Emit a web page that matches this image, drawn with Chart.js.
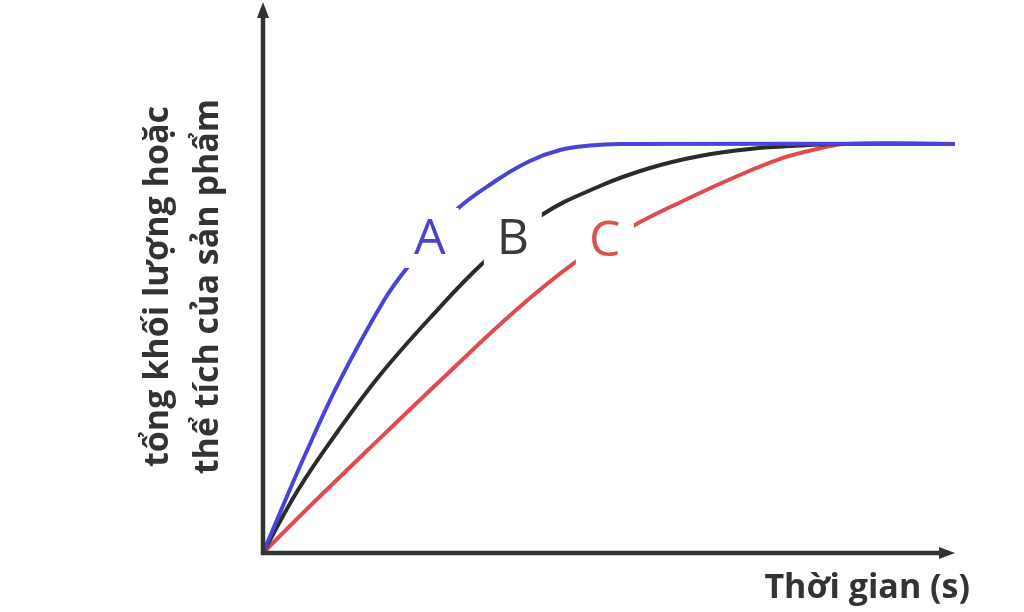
<!DOCTYPE html>
<html>
<head>
<meta charset="utf-8">
<script src="https://cdn.jsdelivr.net/npm/chart.js@4.4.1/dist/chart.umd.min.js"></script>
<style>
  html, body { margin: 0; padding: 0; background: #fff; }
  #wrap { width: 1024px; height: 612px; }
</style>
</head>
<body>
<div id="wrap"><canvas id="chart" width="1024" height="612"></canvas></div>
<script>
// Dữ liệu (thời gian, lượng sản phẩm)
const timeA = [0, 2.75, 6.07, 10.84, 17.34, 20.81, 27.46, 33.82, 38.58, 42.92, 47.25, 51.59, 100];
const valueA = [0, 8.26, 17.98, 31.0, 46.06, 52.29, 62.39, 68.44, 71.93, 73.94, 74.77, 75.05, 75.05];

const timeB = [0, 5.06, 10.84, 16.91, 24.13, 31.94, 40.03, 48.7, 55.92, 63.15, 70.38, 77.6, 83.38, 100];
const valueB = [0, 11.56, 22.39, 32.66, 43.12, 53.39, 61.83, 67.34, 70.64, 72.84, 74.13, 74.77, 75.05, 75.05];

const timeC = [0, 6.07, 15.75, 25.87, 36.42, 45.38, 53.47, 60.69, 67.92, 75.14, 80.06, 84.1, 100];
const valueC = [0, 7.71, 19.63, 31.93, 44.4, 53.58, 60.0, 64.59, 68.81, 72.48, 74.13, 75.05, 75.05];

// Nhãn đường cong
const curveNames = ['A', 'B', 'C'];
const labelX = [24.1, 36.1, 49.4];
const labelY = [57.8, 57.8, 57.4];

const xTitle = 'Thời gian (s)';
const yTitle = ['tổng khối lượng hoặc', 'thể tích của sản phẩm'];

const colors = ['#4a44d6', '#2b2b2b', '#e04b4f'];
const labelColors = ['#4a44cc', '#3a3a3a', '#d9534f'];

function toPoints(xs, ys) {
  return xs.map((x, i) => ({ x: x, y: ys[i] }));
}

// Vẽ trục có mũi tên, nhãn A/B/C và tiêu đề trục
const decorPlugin = {
  id: 'decor',
  afterDatasetsDraw(chart) {
    const ctx = chart.ctx;
    const area = chart.chartArea;
    const xs = chart.scales.x, ys = chart.scales.y;
    ctx.save();

    // nhãn trên đường cong (che đường bằng nền trắng)
    ctx.font = '50px "Open Sans", sans-serif';
    ctx.textAlign = 'center';
    ctx.textBaseline = 'middle';
    curveNames.forEach((name, i) => {
      const px = xs.getPixelForValue(labelX[i]);
      const py = ys.getPixelForValue(labelY[i]);
      ctx.fillStyle = '#fff';
      ctx.fillRect(px - 29, py - 30, 58, 60);
      ctx.fillStyle = labelColors[i];
      ctx.fillText(name, px, py + 2);
    });

    // trục
    ctx.strokeStyle = '#333';
    ctx.fillStyle = '#333';
    ctx.lineWidth = 4.5;
    ctx.beginPath();
    ctx.moveTo(area.left, area.top);
    ctx.lineTo(area.left, area.bottom);
    ctx.lineTo(area.right - 6, area.bottom);
    ctx.stroke();
    // mũi tên trục tung
    ctx.beginPath();
    ctx.moveTo(area.left, area.top - 6);
    ctx.lineTo(area.left - 6, area.top + 10);
    ctx.lineTo(area.left + 6, area.top + 10);
    ctx.closePath();
    ctx.fill();
    // mũi tên trục hoành
    ctx.beginPath();
    ctx.moveTo(area.right, area.bottom);
    ctx.lineTo(area.right - 16, area.bottom - 6);
    ctx.lineTo(area.right - 16, area.bottom + 6);
    ctx.closePath();
    ctx.fill();

    // tiêu đề trục hoành
    ctx.fillStyle = '#333';
    ctx.font = 'bold 34px "Open Sans", sans-serif';
    ctx.textAlign = 'right';
    ctx.textBaseline = 'middle';
    ctx.fillText(xTitle, area.right + 15, area.bottom + 35);

    // tiêu đề trục tung (hai dòng, xoay)
    ctx.translate(area.left - 80, (area.top + area.bottom) / 2 + 6);
    ctx.rotate(-Math.PI / 2);
    ctx.textAlign = 'center';
    ctx.fillText(yTitle[0], 0, -25);
    ctx.fillText(yTitle[1], 0, 25);
    ctx.restore();
  }
};

const ctx = document.getElementById('chart').getContext('2d');
new Chart(ctx, {
  type: 'line',
  data: {
    datasets: [
      { label: 'A', data: toPoints(timeA, valueA), borderColor: colors[0] },
      { label: 'B', data: toPoints(timeB, valueB), borderColor: colors[1] },
      { label: 'C', data: toPoints(timeC, valueC), borderColor: colors[2] }
    ]
  },
  options: {
    responsive: false,
    animation: false,
    layout: { padding: { left: 263, top: 8, right: 69, bottom: 59 } },
    elements: {
      line: { borderWidth: 4, tension: 0.4, fill: false },
      point: { radius: 0 }
    },
    plugins: {
      legend: { display: false },
      tooltip: { enabled: false }
    },
    scales: {
      x: { type: 'linear', min: 0, max: 100, display: false },
      y: { type: 'linear', min: 0, max: 100, display: false }
    }
  },
  plugins: [decorPlugin]
});
</script>
</body>
</html>
